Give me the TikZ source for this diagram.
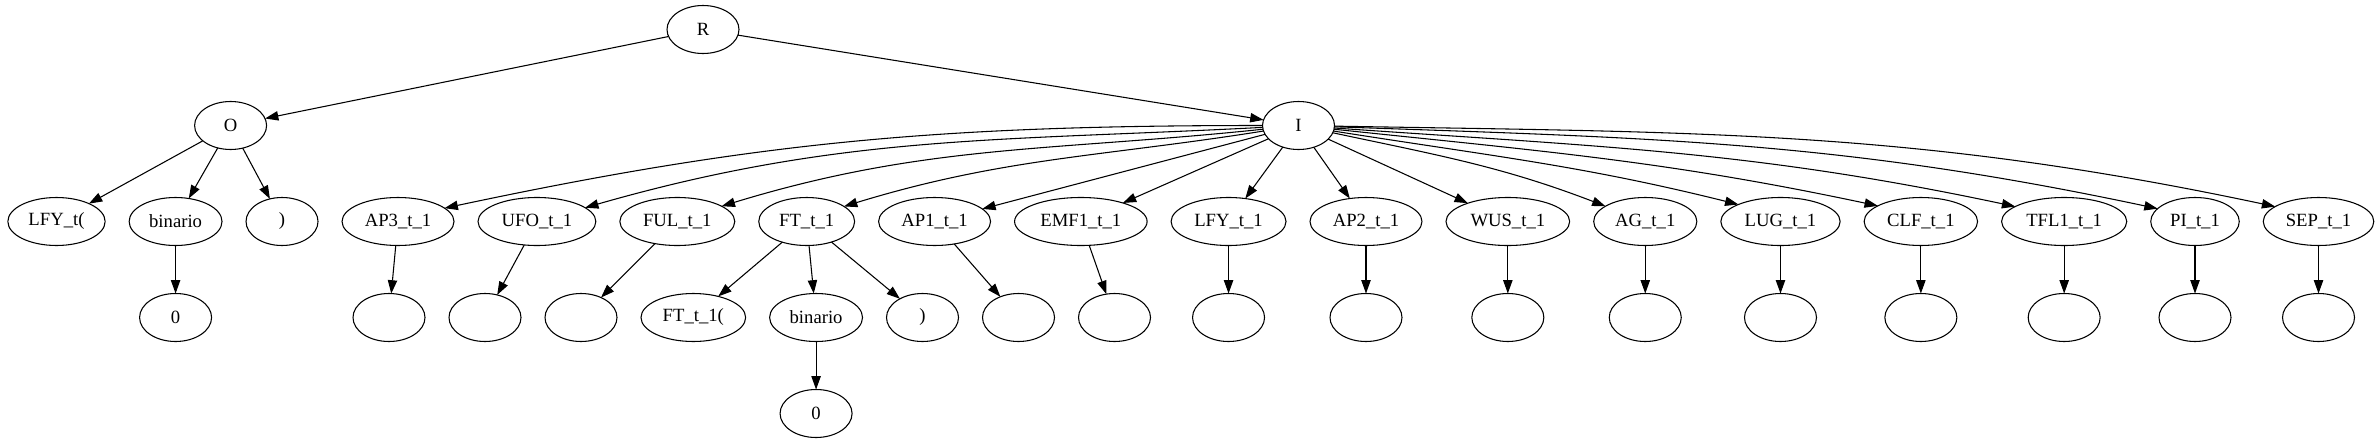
\documentclass[tikz,border=0pt]{standalone}
\usepackage{fontspec}
\setmainfont{Liberation Serif}
\usetikzlibrary{positioning,arrows.meta,shapes.geometric}

\begin{document}
\begin{tikzpicture}[
  x=0.75pt, y=0.75pt,
  node distance=36pt and 18pt,
  tnode/.style={ellipse, draw=black, line width=0.8pt, minimum width=54pt, minimum height=36pt, inner xsep=4.8pt, inner ysep=2pt, outer sep=0pt, font=\fontsize{14}{16}\selectfont},
  arrow/.style={-{Triangle[length=10pt, width=7pt]}, line width=0.8pt}
]
\useasboundingbox (0,0) rectangle (2380,-443);

% Root and its two children
\node[tnode] (r) at (703,-29.5) {R};
\node[tnode] (o) at (230.6,-125.5) {O};
\node[tnode] (i) at (1298.5,-125.5) {I};

% Second level, packed left to right
\node[tnode] (lfyopen) at (56.5,-221.5) {LFY\_t(};
\node[tnode, right=of lfyopen] (bin) {binario};
\node[tnode, right=of bin] (close) {)};
\node[tnode, right=of close] (ap3) {AP3\_t\_1};
\node[tnode, right=of ap3] (ufo) {UFO\_t\_1};
\node[tnode, right=of ufo] (ful) {FUL\_t\_1};
\node[tnode, right=of ful] (ft) {FT\_t\_1};
\node[tnode, right=of ft] (ap1) {AP1\_t\_1};
\node[tnode, right=of ap1] (emf1) {EMF1\_t\_1};
\node[tnode, right=of emf1] (lfy) {LFY\_t\_1};
\node[tnode, right=of lfy] (ap2) {AP2\_t\_1};
\node[tnode, right=of ap2] (wus) {WUS\_t\_1};
\node[tnode, right=of wus] (ag) {AG\_t\_1};
\node[tnode, right=of ag] (lug) {LUG\_t\_1};
\node[tnode, right=of lug] (clf) {CLF\_t\_1};
\node[tnode, right=of clf] (tfl1) {TFL1\_t\_1};
\node[tnode, right=of tfl1] (pi) {PI\_t\_1};
\node[tnode, right=of pi] (sep) {SEP\_t\_1};

% Third level
\node[tnode, below=of bin] (binzero) {0};
\node[tnode] (ap3leaf) at (389,-317.5) {};
\node[tnode, right=of ap3leaf] (ufoleaf) {};
\node[tnode, right=of ufoleaf] (fulleaf) {};
\node[tnode, right=of fulleaf] (ftopen) {FT\_t\_1(};
\node[tnode, right=of ftopen] (ftbin) {binario};
\node[tnode, right=of ftbin] (ftclose) {)};
\node[tnode, right=of ftclose] (ap1leaf) {};
\node[tnode, right=of ap1leaf] (emf1leaf) {};
\node[tnode, below=of lfy] (lfyleaf) {};
\node[tnode, below=of ap2] (ap2leaf) {};
\node[tnode, below=of wus] (wusleaf) {};
\node[tnode, below=of ag] (agleaf) {};
\node[tnode, below=of lug] (lugleaf) {};
\node[tnode, below=of clf] (clfleaf) {};
\node[tnode, below=of tfl1] (tfl1leaf) {};
\node[tnode, below=of pi] (pileaf) {};
\node[tnode, below=of sep] (sepleaf) {};

% Fourth level
\node[tnode, below=of ftbin] (ftzero) {0};

% Edges from the root
\draw[arrow] (r) -- (o);
\draw[arrow] (r) -- (i);

% Left subtree
\draw[arrow] (o) -- (lfyopen);
\draw[arrow] (o) -- (bin);
\draw[arrow] (o) -- (close);
\draw[arrow] (bin) -- (binzero);

% Fan out of I
\draw[arrow] (i) to[out=180, in=12] (ap3.16);
\draw[arrow] (i) to[out=183, in=16] (ufo.16);
\draw[arrow] (i) to[out=186, in=17] (ful.19);
\draw[arrow] (i) to[out=189, in=17] (ft.22);
\draw[arrow] (i) -- (ap1);
\draw[arrow] (i) -- (emf1);
\draw[arrow] (i) -- (lfy);
\draw[arrow] (i) -- (ap2);
\draw[arrow] (i) -- (wus);
\draw[arrow] (i) to[out=-12, in=159] (ag.159);
\draw[arrow] (i) to[out=-9, in=166] (lug.158);
\draw[arrow] (i) to[out=-6, in=168] (clf.160);
\draw[arrow] (i) to[out=-4, in=168] (tfl1.163);
\draw[arrow] (i) to[out=-2, in=168] (pi.161);
\draw[arrow] (i) to[out=-1, in=168] (sep.161);

% Leaves under the second level
\draw[arrow] (ap3) -- (ap3leaf);
\draw[arrow] (ufo) -- (ufoleaf);
\draw[arrow] (ful) -- (fulleaf);
\draw[arrow] (ft) -- (ftopen);
\draw[arrow] (ft) -- (ftbin);
\draw[arrow] (ft) -- (ftclose);
\draw[arrow] (ftbin) -- (ftzero);
\draw[arrow] (ap1) -- (ap1leaf);
\draw[arrow] (emf1) -- (emf1leaf);
\draw[arrow] (lfy) -- (lfyleaf);
\draw[arrow] (ap2) -- (ap2leaf);
\draw[arrow] (wus) -- (wusleaf);
\draw[arrow] (ag) -- (agleaf);
\draw[arrow] (lug) -- (lugleaf);
\draw[arrow] (clf) -- (clfleaf);
\draw[arrow] (tfl1) -- (tfl1leaf);
\draw[arrow] (pi) -- (pileaf);
\draw[arrow] (sep) -- (sepleaf);

\end{tikzpicture}
\end{document}
